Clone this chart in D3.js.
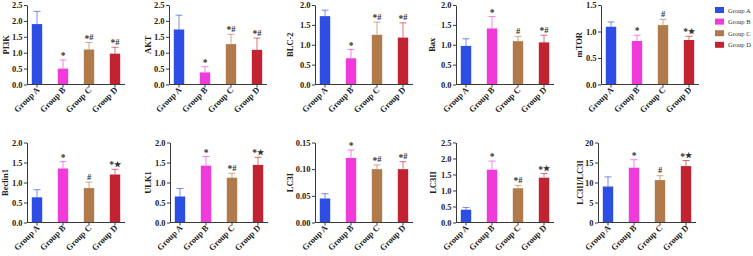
<!DOCTYPE html>
<html><head><meta charset="utf-8">
<script src="https://cdn.jsdelivr.net/npm/d3@7"></script>
<style>
html,body{margin:0;padding:0;background:#fff;}
svg{display:block;font-family:"Liberation Serif","Times New Roman",serif;}
</style></head>
<body><svg id="c" width="753" height="256"></svg>
<script>
const groups = ["Group A","Group B","Group C","Group D"];
const colors = ["#2c4ee2","#ef3bd9","#b07a4b","#c22331"];
const markers = ["PI3K","AKT","BLC-2","Bax","mTOR","Beclin1","ULK1","LC3I","LC3II","LC3II/LC3I"];
const means = [
  [1.90,0.50,1.10,0.97],
  [1.73,0.38,1.27,1.09],
  [1.72,0.66,1.25,1.18],
  [0.97,1.41,1.09,1.06],
  [1.09,0.82,1.12,0.84],
  [0.63,1.35,0.86,1.20],
  [0.65,1.42,1.12,1.44],
  [0.045,0.121,0.100,0.100],
  [0.40,1.65,1.07,1.40],
  [9.0,13.7,10.6,14.1]
];
const sds = [
  [0.40,0.27,0.22,0.20],
  [0.45,0.18,0.31,0.37],
  [0.15,0.22,0.32,0.37],
  [0.18,0.30,0.12,0.18],
  [0.09,0.11,0.11,0.07],
  [0.19,0.17,0.15,0.13],
  [0.20,0.23,0.11,0.19],
  [0.009,0.015,0.008,0.014],
  [0.07,0.27,0.09,0.13],
  [2.4,2.0,1.1,1.4]
];
const signif = [
  ["","*","*#","*#"],
  ["","*","*#","*#"],
  ["","*","*#","*#"],
  ["","*","#","*#"],
  ["","*","#","*\u2605"],
  ["","*","#","*\u2605"],
  ["","*","*#","*\u2605"],
  ["","*","*#","*#"],
  ["","*","*#","*\u2605"],
  ["","*","#","*\u2605"]
];
const yMax = [2.5,2.5,2.0,2.0,1.5,2.0,2.0,0.15,2.5,20];
const yStep = [0.5,0.5,0.5,0.5,0.5,0.5,0.5,0.05,0.5,5];
const yFmt = [".1f",".1f",".1f",".1f",".1f",".1f",".1f",".2f",".1f","d"];

// layout
const axisX = [27,169,315,456,601,27,170,315,456,598];
const labelX = [5.5,148,290,432,579,5,148,289.5,433,580];
const rowTop = [5,142.5], rowBot = [84.5,222.5];
const axisLen = 98;

const svg = d3.select("#c");
const axisColor = "#3a3a3a";
const FONT = "Liberation Serif, Times New Roman, serif";

markers.forEach((m,i)=>{
  const row = i<5?0:1;
  const x0 = axisX[i];
  const g = svg.append("g");
  const x = d3.scaleBand().domain(groups).range([x0-3, x0+101]).paddingInner(0.6).paddingOuter(0.3);
  const y = d3.scaleLinear().domain([0,yMax[i]]).range([rowBot[row], rowTop[row]]);
  const ticks = d3.range(0, yMax[i]+yStep[i]/2, yStep[i]);

  groups.forEach((gr,j)=>{
    const cx = x(gr)+x.bandwidth()/2;
    const top = y(means[i][j]+sds[i][j]);
    g.append("line").attr("x1",cx).attr("x2",cx).attr("y1",y(means[i][j])).attr("y2",top)
      .attr("stroke",colors[j]).attr("stroke-width",0.9).attr("opacity",0.7);
    g.append("line").attr("x1",cx-3.5).attr("x2",cx+3.5).attr("y1",top).attr("y2",top)
      .attr("stroke",colors[j]).attr("stroke-width",0.9).attr("opacity",0.7);
    g.append("rect").attr("x",x(gr)).attr("width",x.bandwidth())
      .attr("y",y(means[i][j])).attr("height",y(0)-y(means[i][j])).attr("fill",colors[j]);
    if(signif[i][j]){
      const t = g.append("text").attr("x",cx).attr("y",top-2.5).attr("text-anchor","middle")
        .attr("font-size",8.5).attr("font-weight","bold").attr("fill","#333");
      let shifted = false;
      [...signif[i][j]].forEach(ch=>{
        const sp = t.append("tspan").text(ch);
        if(ch==="*"){ sp.attr("font-size",9.5).attr("dy",1.5); shifted = true; }
        else {
          sp.attr("font-size", ch==="\u2605"?7.5:8.5);
          if(shifted){ sp.attr("dy",-1.5); shifted=false; }
        }
      });
    }
  });

  const ya = g.append("g").attr("transform",`translate(${x0},0)`)
    .call(d3.axisLeft(y).tickValues(ticks).tickFormat(d3.format(yFmt[i])).tickSize(3).tickPadding(1.5).tickSizeOuter(0));
  ya.selectAll("text").attr("font-size",8.5).attr("font-weight","bold").attr("fill","#222")
    .attr("font-family",FONT);
  ya.selectAll("line,path").attr("stroke",axisColor);

  const xa = g.append("g").attr("transform",`translate(0,${y(0)})`)
    .call(d3.axisBottom(x).tickSize(3).tickSizeOuter(0));
  xa.select("path").remove();
  xa.selectAll("line").attr("stroke",axisColor);
  xa.selectAll("text").attr("font-size",8.5).attr("font-weight","bold").attr("fill","#222")
    .attr("font-family",FONT)
    .attr("text-anchor","end").attr("dy",0).attr("y",0)
    .attr("transform","translate(3,6) rotate(-45)");
  g.append("line").attr("x1",x0).attr("x2",x0+axisLen).attr("y1",y(0)).attr("y2",y(0))
    .attr("stroke",axisColor).attr("stroke-width",1.2);

  const ym = (rowTop[row]+rowBot[row])/2;
  g.append("text").attr("transform",`translate(${labelX[i]},${ym}) rotate(-90)`)
    .attr("text-anchor","middle").attr("dominant-baseline","central")
    .attr("font-size",8.5).attr("font-weight","bold").attr("fill","#222").text(m);
});

const lg = svg.append("g");
groups.forEach((gr,j)=>{
  const yy = 10 + j*11.6;
  lg.append("rect").attr("x",715).attr("y",yy-3).attr("width",9).attr("height",6).attr("fill",colors[j]);
  lg.append("text").attr("x",728).attr("y",yy).attr("dominant-baseline","central")
    .attr("font-size",6.5).attr("fill","#333").text(gr);
});
</script></body></html>
